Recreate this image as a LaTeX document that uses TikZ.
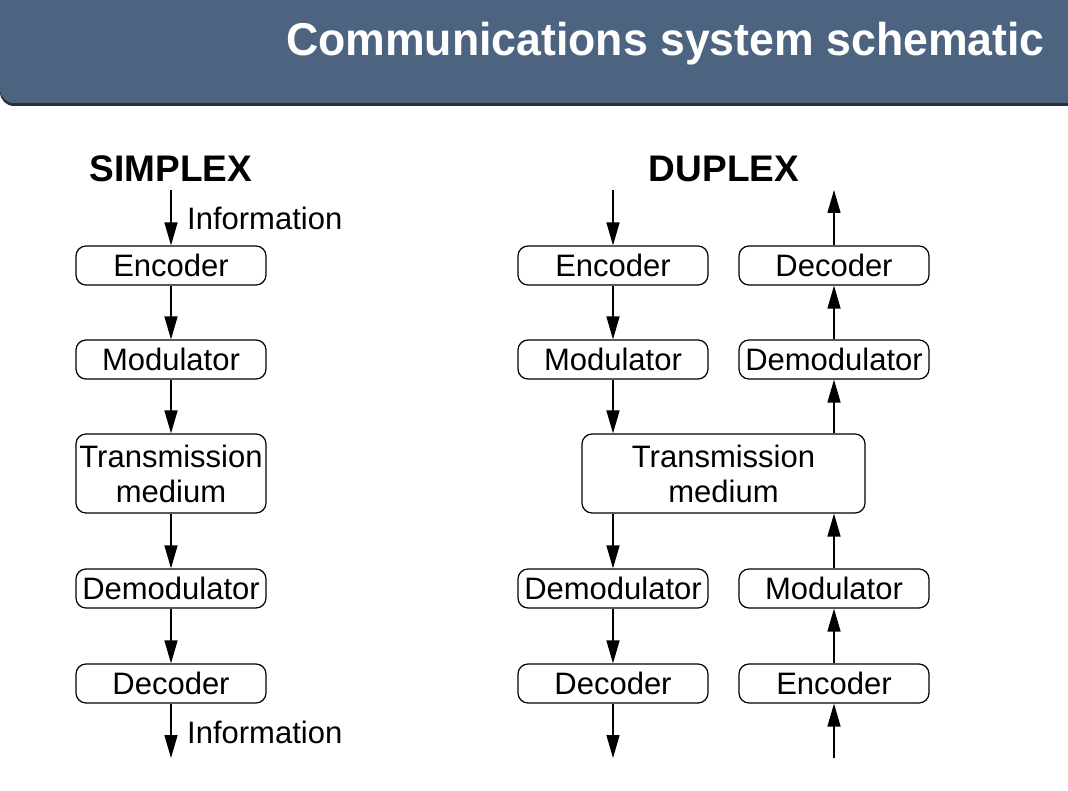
\documentclass[tikz,border=0pt]{standalone}
\usepackage{fontspec}
\setmainfont{Liberation Sans}
\usepackage{tikz}
\usetikzlibrary{arrows.meta, positioning, calc}
\definecolor{headBlue}{HTML}{4C6480}
\definecolor{headShade}{HTML}{26313D}

\begin{document}
\begin{tikzpicture}[
    x=1pt, y=-1pt,
    blk/.style={draw, rounded corners=10pt, line width=1.2pt, minimum width=190pt, minimum height=39pt,
      inner sep=1pt, font=\fontsize{31}{35}\selectfont, align=center},
    medium/.style={blk, minimum height=79pt},
    arr/.style={-{Triangle[length=23pt, width=13pt]}, line width=1.4pt},
    hdg/.style={font=\fontsize{37}{40}\selectfont\bfseries, anchor=base},
    lbl/.style={font=\fontsize{31}{35}\selectfont, anchor=west, inner sep=0pt}
  ]
  \useasboundingbox (0,0) rectangle (1068,791);

  % title bar
  \begin{scope}
    \clip (0,0) rectangle (1068,791);
    \fill[headShade] (1090,0) -- (0,0) {[rounded corners=14pt] -- (0,106) -- (1090,106)} -- cycle;
    \fill[headBlue] (1090,0) -- (0,0) {[rounded corners=14pt] -- (0,103) -- (1090,103)} -- cycle;
  \end{scope}
  \node[text=white, font=\fontsize{46}{50}\selectfont\bfseries, anchor=base east, xscale=0.97, inner sep=0pt]
    (title) at (1045,56) {Communications system schematic};

  % simplex
  \node[hdg] (simHead) at (171,182) {SIMPLEX};
  \coordinate (simIn) at (171,190);
  \node[blk] (simEnc) at (171,265.5) {Encoder};
  \node[blk] (simMod) at (171,359.5) {Modulator};
  \node[medium] (simMed) at (171,473.5) {Transmission\\medium};
  \node[blk] (simDem) at (171,588.5) {Demodulator};
  \node[blk] (simDec) at (171,683.5) {Decoder};
  \coordinate (simOut) at (171,758);
  \node[lbl] (simInfoIn) at (187,218) {Information};
  \node[lbl] (simInfoOut) at (187,732) {Information};

  \draw[arr] (simIn) -- (simEnc);
  \draw[arr] (simEnc) -- (simMod);
  \draw[arr] (simMod) -- (simMed);
  \draw[arr] (simMed) -- (simDem);
  \draw[arr] (simDem) -- (simDec);
  \draw[arr] (simDec) -- (simOut);

  % duplex
  \node[hdg] (dupHead) at (724,182) {DUPLEX};
  \node[medium, minimum width=283pt] (dupMed) at (723.5,473.5) {Transmission\\medium};

  \coordinate (txIn) at (613,190);
  \node[blk] (txEnc) at (613,265.5) {Encoder};
  \node[blk] (txMod) at (613,359.5) {Modulator};
  \node[blk] (rxDem) at (613,588.5) {Demodulator};
  \node[blk] (rxDec) at (613,683.5) {Decoder};
  \coordinate (rxOut) at (613,758);

  \coordinate (txOut) at (834,190);
  \node[blk] (txDec) at (834,265.5) {Decoder};
  \node[blk] (txDem) at (834,359.5) {Demodulator};
  \node[blk] (rxMod) at (834,588.5) {Modulator};
  \node[blk] (rxEnc) at (834,683.5) {Encoder};
  \coordinate (rxIn) at (834,758);

  \draw[arr] (txIn) -- (txEnc);
  \draw[arr] (txEnc) -- (txMod);
  \draw[arr] (txMod.south) -- (txMod.south |- dupMed.north);
  \draw[arr] (dupMed.south -| rxDem.north) -- (rxDem.north);
  \draw[arr] (rxDem) -- (rxDec);
  \draw[arr] (rxDec) -- (rxOut);

  \draw[arr] (rxIn) -- (rxEnc);
  \draw[arr] (rxEnc) -- (rxMod);
  \draw[arr] (rxMod.north) -- (rxMod.north |- dupMed.south);
  \draw[arr] (dupMed.north -| txDem.south) -- (txDem.south);
  \draw[arr] (txDem) -- (txDec);
  \draw[arr] (txDec) -- (txOut);
\end{tikzpicture}
\end{document}
